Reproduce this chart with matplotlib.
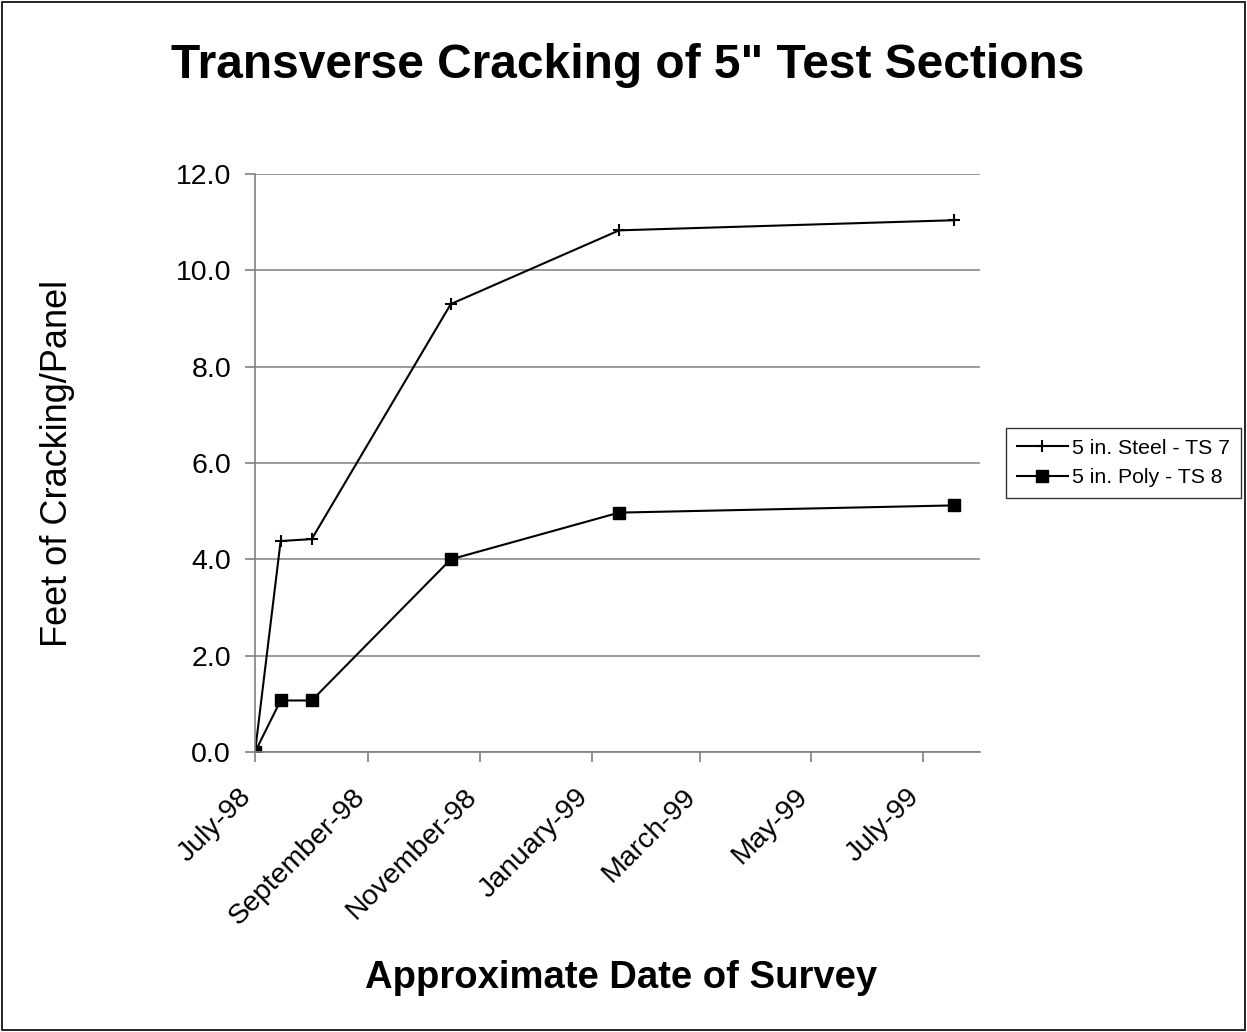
import numpy as np
import matplotlib
matplotlib.use("Agg")
import matplotlib.pyplot as plt
import matplotlib.dates as mdates
from matplotlib.patches import Rectangle
from matplotlib.transforms import ScaledTranslation

plt.rcParams['font.family'] = ['Liberation Sans', 'DejaVu Sans']

# Data
survey_dates = np.array(['1998-07-01', '1998-07-15', '1998-08-01', '1998-10-16',
                         '1999-01-16', '1999-07-18'], dtype='datetime64[D]')
steel_ts7 = [0.0, 4.38, 4.42, 9.30, 10.83, 11.04]
poly_ts8 = [0.0, 1.07, 1.07, 4.00, 4.97, 5.12]

fig = plt.figure(figsize=(12.47, 10.32), dpi=100)
ax = fig.add_axes([0.2045, 0.2713, 0.581, 0.5601])

ax.plot(survey_dates, steel_ts7, color='black', lw=1.5, marker='+',
        markersize=9, markeredgewidth=1.5, label='5 in. Steel - TS 7')
ax.plot(survey_dates, poly_ts8, color='black', lw=1.5, marker='s',
        markersize=9, label='5 in. Poly - TS 8')

ax.set_ylim(0, 12)
ax.set_yticks(np.arange(0, 12.1, 2))
ax.yaxis.set_major_formatter(matplotlib.ticker.FormatStrFormatter('%.1f'))
ax.set_xlim(np.datetime64('1998-07-01'), np.datetime64('1999-08-01'))
ax.xaxis.set_major_locator(mdates.MonthLocator(bymonth=[1, 3, 5, 7, 9, 11]))
ax.xaxis.set_major_formatter(mdates.DateFormatter('%B-%y'))

ax.grid(axis='y', color='#808080', lw=1.1)
ax.set_axisbelow(True)
for s in ['top', 'right']:
    ax.spines[s].set_visible(False)
for s in ['left', 'bottom']:
    ax.spines[s].set_color('#808080')
    ax.spines[s].set_linewidth(1.2)
ax.tick_params(axis='both', colors='#808080', length=7.2, width=1.2,
               labelcolor='black', labelsize=20.5)
ax.tick_params(axis='y', pad=10)
ax.tick_params(axis='x', pad=6)
plt.setp(ax.get_xticklabels(), rotation=45, ha='right', rotation_mode='anchor')
# nudge rotated date labels down-left like the original
for lbl in ax.get_xticklabels():
    lbl.set_transform(lbl.get_transform() + ScaledTranslation(-12/72, -9.5/72, fig.dpi_scale_trans))

ax.set_ylabel('Feet of Cracking/Panel', fontsize=26)
ax.yaxis.set_label_coords(-0.248, 0.5)
ax.set_xlabel('Approximate Date of Survey', fontsize=27.5, fontweight='bold')
ax.xaxis.set_label_coords(0.505, -0.359)

fig.suptitle('Transverse Cracking of 5" Test Sections', fontsize=34.5,
             fontweight='bold', x=0.503, y=0.958)

leg = ax.legend(loc='center left', bbox_to_anchor=(1.037, 0.5), borderaxespad=0,
                fontsize=15.3, frameon=True, fancybox=False, edgecolor='black',
                handlelength=2.4, handletextpad=0.2, borderpad=0.5,
                labelspacing=0.5)
leg.get_frame().set_linewidth(1.0)

fig.patches.append(Rectangle((0.002, 0.002), 0.996, 0.996, transform=fig.transFigure,
                             fill=False, edgecolor='black', lw=1.2))

fig.savefig('out.png', dpi=100)
